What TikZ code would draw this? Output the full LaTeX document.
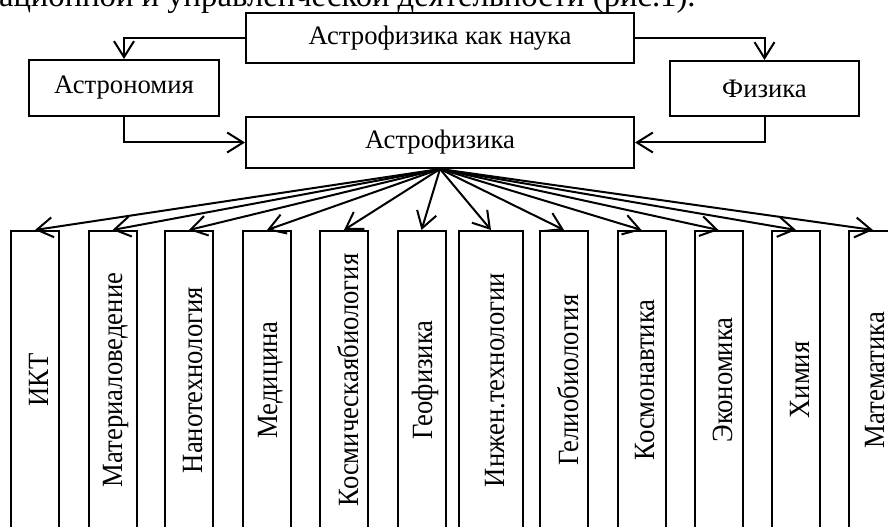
\documentclass[tikz,border=0pt]{standalone}
\usepackage{fontspec}
\usepackage{graphicx}
\setmainfont{Liberation Serif}
\usetikzlibrary{arrows.meta}
\begin{document}
\begin{tikzpicture}[x=0.75pt,y=-0.75pt, line width=1.5pt,
  lbl/.style={font=\fontsize{20}{23}\selectfont},
  box/.style={draw, inner sep=0pt, lbl},
  vbox/.style={draw, inner sep=0pt, minimum width=36pt, minimum height=235.5pt},
  vtext/.style={rotate=90, inner sep=0pt, lbl},
  arr/.style={-{Straight Barb[length=12pt,width=15pt]}, line width=1.5pt},
  ]
\path[use as bounding box] (0,0) rectangle (888,527);
\clip (0,0) rectangle (888,527);

\node[anchor=base west, inner sep=0pt, font=\fontsize{24.5}{28}\selectfont] (intro) at (-2,7) {ационной и управленческой деятельности (рис.1).};

\node[box, minimum width=291pt, minimum height=37.5pt] (top) at (440,38) {Астрофизика как наука};
\node[box, minimum width=142.5pt, minimum height=42pt] (astron) at (124,88) {Астрономия};
\node[box, minimum width=141.75pt, minimum height=41.25pt] (fiz) at (764.5,88.5) {Физика};
\node[box, minimum width=291pt, minimum height=38.25pt] (astro) at (440,142.5) {Астрофизика};

\draw[arr] (top.west) -| (astron.north);
\draw[arr] (top.east) -| (fiz.north);
\draw[arr] (astron.south) |- (astro.west);
\draw[arr] (fiz.south) |- (astro.east);

\foreach \i/\x/\t in {1/35/ИКТ, 2/112.5/Материаловедение, 3/189/Нанотехнология, 4/267/Медицина,
  5/344/Космическаябиология, 6/421.5/Геофизика, 8/564/Гелиобиология, 9/641.5/Космонавтика,
  10/718.5/Экономика, 11/796/Химия}{
  \node[vbox] (b\i) at (\x,388) {};
  \node[vtext] (t\i) at (\x+4,380) {\scalebox{1}[1.1]{\t}};
}
\node[vbox, minimum width=48pt] (b7) at (491,388) {};
\node[vtext] (t7) at (495,380) {\scalebox{1}[1.1]{Инжен.технологии}};
\node[vbox] (b12) at (873,388) {};
\node[vtext] (t12) at (875.5,380) {\scalebox{1}[1.1]{Математика}};

\foreach \i in {1,...,12}{
  \draw[arr] (astro.south) -- (b\i.north);
}
\end{tikzpicture}
\end{document}
